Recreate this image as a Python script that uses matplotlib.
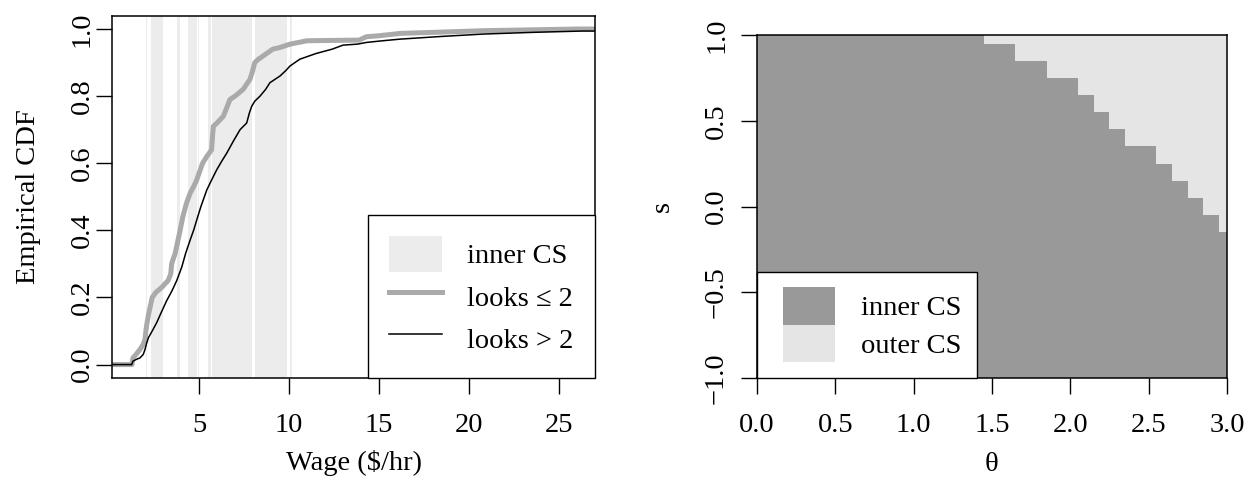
import numpy as np
import matplotlib
matplotlib.use("Agg")
import matplotlib.pyplot as plt
from matplotlib.colors import ListedColormap
from matplotlib.patches import Patch, Rectangle
from matplotlib.lines import Line2D
from matplotlib.legend_handler import HandlerPatch

plt.rcParams['font.family'] = ['Liberation Serif', 'DejaVu Serif']
plt.rcParams['axes.unicode_minus'] = True
FS = 20.5

# ---- left panel: empirical CDFs of wage
wage_lo = [0.0, 1.28, 1.33, 1.5, 1.72, 1.9, 2.0, 2.05, 2.1, 2.2, 2.28, 2.4, 2.6, 2.93,
           3.1, 3.28, 3.43, 3.48, 3.6, 3.67, 3.83, 3.95, 4.1, 4.3, 4.5, 4.7, 4.87, 5.0,
           5.2, 5.43, 5.7, 5.75, 5.8, 6.0, 6.35, 6.5, 6.72, 7.0, 7.45, 7.83, 7.95, 8.1,
           8.3, 8.57, 9.1, 9.5, 10.06, 11.0, 13.9, 14.3, 15.0, 16.2, 18.0, 20.8, 26.0, 27.5]
cdf_lo = [0.0, 0.0, 0.02, 0.03, 0.045, 0.06, 0.075, 0.1, 0.12, 0.15, 0.17, 0.2, 0.215, 0.23,
          0.24, 0.25, 0.27, 0.30, 0.32, 0.33, 0.37, 0.40, 0.44, 0.48, 0.51, 0.53, 0.55, 0.57,
          0.60, 0.62, 0.64, 0.68, 0.71, 0.72, 0.74, 0.76, 0.79, 0.80, 0.82, 0.85, 0.87, 0.90,
          0.91, 0.92, 0.94, 0.945, 0.955, 0.965, 0.967, 0.977, 0.98, 0.987, 0.99, 0.995, 1.0, 1.0]

wage_hi = [0.0, 1.26, 1.33, 1.5, 1.72, 1.9, 2.0, 2.1, 2.19, 2.4, 2.65, 2.9, 3.2, 3.5, 3.76,
           4.04, 4.25, 4.5, 4.7, 4.87, 5.1, 5.43, 5.7, 5.98, 6.25, 6.54, 6.9, 7.28, 7.65,
           7.8, 7.93, 8.1, 8.39, 8.7, 8.94, 9.5, 9.8, 10.06, 10.6, 11.5, 12.4, 13.0, 13.8,
           14.3, 15.2, 16.2, 18.5, 20.8, 23.5, 26.3, 27.5]
cdf_hi = [0.0, 0.0, 0.01, 0.015, 0.02, 0.03, 0.045, 0.065, 0.08, 0.10, 0.125, 0.155, 0.19,
          0.22, 0.25, 0.29, 0.33, 0.37, 0.40, 0.43, 0.47, 0.52, 0.55, 0.58, 0.605, 0.63,
          0.665, 0.70, 0.72, 0.75, 0.77, 0.785, 0.80, 0.82, 0.84, 0.86, 0.875, 0.89, 0.91,
          0.927, 0.94, 0.952, 0.955, 0.96, 0.965, 0.97, 0.978, 0.985, 0.99, 0.994, 0.994]

# wage intervals inside the inner confidence set
inner_from = [2.06, 2.33, 3.37, 3.48, 3.59, 3.78, 4.39, 4.94, 5.50, 5.72, 8.11, 10.06]
inner_to = [2.11, 3.00, 3.41, 3.52, 3.63, 3.94, 4.89, 5.00, 5.67, 7.94, 9.89, 10.17]

# ---- right panel: inner / outer CS on the (theta, s) grid
theta = [0.0, 0.1, 0.2, 0.3, 0.4, 0.5, 0.6, 0.7, 0.8, 0.9, 1.0, 1.1, 1.2, 1.3, 1.4, 1.5,
         1.6, 1.7, 1.8, 1.9, 2.0, 2.1, 2.2, 2.3, 2.4, 2.5, 2.6, 2.7, 2.8, 2.9, 3.0]
s_vals = [-1.0, -0.9, -0.8, -0.7, -0.6, -0.5, -0.4, -0.3, -0.2, -0.1, 0.0,
          0.1, 0.2, 0.3, 0.4, 0.5, 0.6, 0.7, 0.8, 0.9, 1.0]
# highest s still in the inner CS, per theta column
s_upper = [1.0, 1.0, 1.0, 1.0, 1.0, 1.0, 1.0, 1.0, 1.0, 1.0, 1.0, 1.0, 1.0, 1.0, 1.0, 0.9,
           0.9, 0.8, 0.8, 0.7, 0.7, 0.6, 0.5, 0.4, 0.3, 0.3, 0.2, 0.1, 0.0, -0.1, -0.2]

band_col = "#ececec"
lo_col = "#aaaaaa"
inner_col = "#999999"
outer_col = "#e5e5e5"


def shifted_box(legend, orig_handle, xdescent, ydescent, width, height, fontsize):
    # leave a little gap left of the legend key, like R does
    dx = 0.35 * fontsize
    return Rectangle((-xdescent + dx, -ydescent), width - dx, height)


fig = plt.figure(figsize=(12.51, 4.87), dpi=100)
W, H = 1251, 487
ax1 = fig.add_axes([112 / W, 109 / H, 483 / W, 362.4 / H])
ax2 = fig.add_axes([757 / W, 109 / H, 470 / W, 343 / H])

# left
for a, b in zip(inner_from, inner_to):
    ax1.axvspan(a, b, color=band_col, lw=0, zorder=0)
ax1.plot(wage_lo, cdf_lo, color=lo_col, lw=3.6, zorder=2)
ax1.plot(wage_hi, cdf_hi, color="black", lw=1.1, zorder=3)
ax1.set_xlim(0.167, 27.0)
ax1.set_ylim(-0.04, 1.04)
ax1.set_xticks([5, 10, 15, 20, 25])
ax1.set_yticks([0.0, 0.2, 0.4, 0.6, 0.8, 1.0])
ax1.set_yticklabels(["0.0", "0.2", "0.4", "0.6", "0.8", "1.0"])
ax1.set_xlabel(r"Wage (\$/hr)", fontsize=FS)
ax1.set_ylabel("Empirical CDF", fontsize=FS)
ax1.xaxis.set_label_coords(0.5, -0.199)
ax1.yaxis.set_label_coords(-0.147, 0.5)
ax1.tick_params(axis="x", pad=14)
ax1.tick_params(axis="y", pad=1, labelrotation=90)

h1 = [Patch(facecolor=band_col, edgecolor="none"),
      Line2D([], [], color=lo_col, lw=3.6),
      Line2D([], [], color="black", lw=1.1)]
leg1 = ax1.legend(h1, ["inner CS", "looks \u2264 2", "looks > 2"], loc="lower right",
                  bbox_to_anchor=(1, 0), borderaxespad=0, fontsize=FS, fancybox=False,
                  edgecolor="black", framealpha=1, borderpad=0.75, handlelength=1.85,
                  handleheight=1.57, handletextpad=0.9, labelspacing=0.22)
leg1.get_frame().set_linewidth(1.0)

# right
th = np.array(theta)
sv = np.array(s_vals)
t_edges = np.r_[th - 0.05, th[-1] + 0.05]
s_edges = np.r_[sv - 0.05, sv[-1] + 0.05]
inside = (sv[:, None] <= np.array(s_upper)[None, :] + 1e-9).astype(int)
ax2.pcolormesh(t_edges, s_edges, inside, cmap=ListedColormap([outer_col, inner_col]),
               vmin=0, vmax=1, shading="flat", edgecolors="none", antialiased=False)
ax2.set_xlim(0, 3)
ax2.set_ylim(-1, 1)
ax2.set_xticks([0.0, 0.5, 1.0, 1.5, 2.0, 2.5, 3.0])
ax2.set_xticklabels(["0.0", "0.5", "1.0", "1.5", "2.0", "2.5", "3.0"])
ax2.set_yticks([-1.0, -0.5, 0.0, 0.5, 1.0])
ax2.set_yticklabels(["\u22121.0", "\u22120.5", "0.0", "0.5", "1.0"])
ax2.set_xlabel("\u03b8", fontsize=FS)
ax2.set_ylabel("s", fontsize=FS)
ax2.xaxis.set_label_coords(0.5, -0.215)
ax2.yaxis.set_label_coords(-0.1745, 0.5)
ax2.tick_params(axis="x", pad=14)
ax2.tick_params(axis="y", pad=8.6, labelrotation=90)

h2 = [Patch(facecolor=inner_col, edgecolor="none"),
      Patch(facecolor=outer_col, edgecolor="none")]
leg2 = ax2.legend(h2, ["inner CS", "outer CS"], loc="lower left", bbox_to_anchor=(0, 0),
                  borderaxespad=0, fontsize=FS, fancybox=False, edgecolor="black",
                  framealpha=1, borderpad=0.55, handlelength=2.2, handleheight=1.65,
                  handletextpad=0.9, labelspacing=0.0,
                  handler_map={Patch: HandlerPatch(patch_func=shifted_box)})
leg2.get_frame().set_linewidth(1.0)

for ax in (ax1, ax2):
    ax.tick_params(direction="out", length=11.5, width=1.0, labelsize=FS, color="black")
    plt.setp(ax.get_yticklabels(), va="center")
    for sp in ax.spines.values():
        sp.set_linewidth(1.1)
        sp.set_color("black")

fig.savefig("out.png", dpi=100)
